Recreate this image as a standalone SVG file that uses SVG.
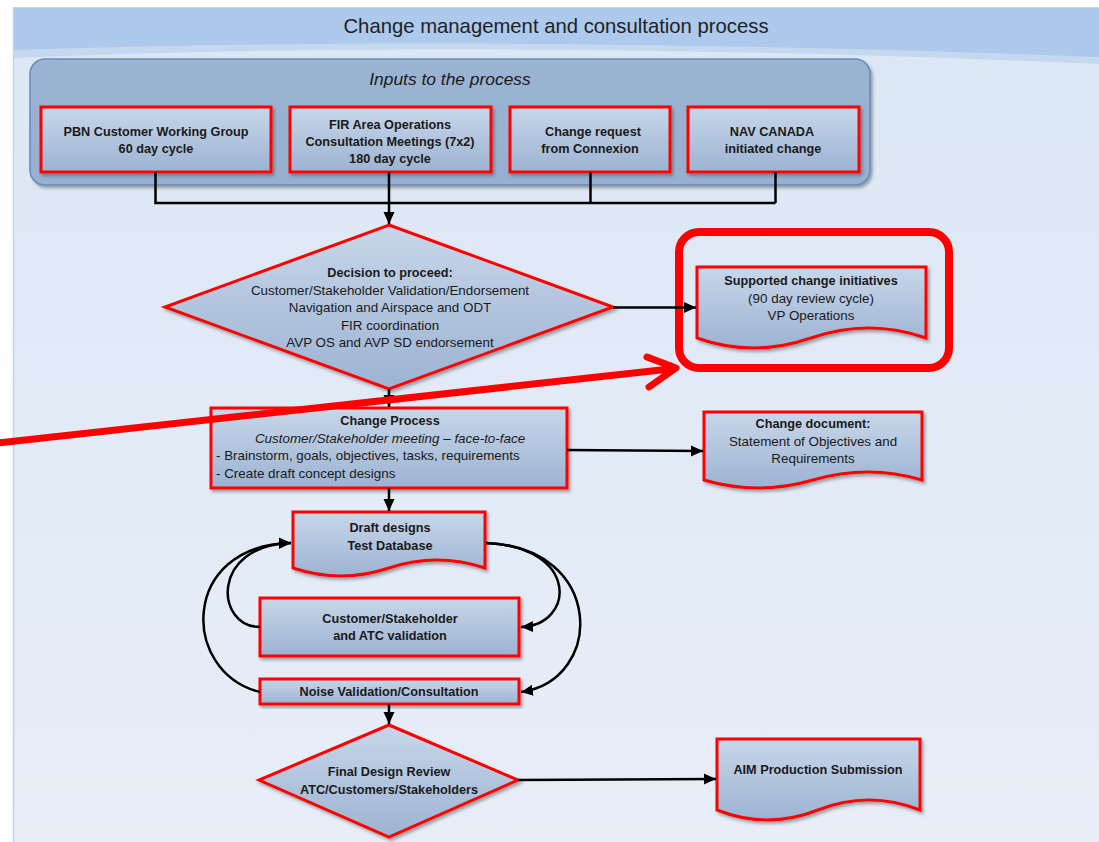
<svg xmlns="http://www.w3.org/2000/svg" width="1099" height="842" viewBox="0 0 1099 842">
<defs>
<linearGradient id="bodyG" x1="0" y1="0" x2="0" y2="1">
<stop offset="0" stop-color="#dce7f5"/>
<stop offset="1" stop-color="#e8eef8"/>
</linearGradient>
<linearGradient id="nodeG" x1="0" y1="0" x2="0" y2="1">
<stop offset="0" stop-color="#c8d7ea"/>
<stop offset="1" stop-color="#9cb3d2"/>
</linearGradient>
<linearGradient id="contG" x1="0" y1="0" x2="0" y2="1">
<stop offset="0" stop-color="#9cb4d3"/>
<stop offset="1" stop-color="#97b0d0"/>
</linearGradient>
<filter id="sh" x="-10%" y="-10%" width="125%" height="130%">
<feDropShadow dx="2" dy="2.5" stdDeviation="1.5" flood-color="#404040" flood-opacity="0.45"/>
</filter>
<marker id="ah" markerUnits="userSpaceOnUse" markerWidth="14" markerHeight="12" refX="12" refY="6" orient="auto">
<path d="M0,0.5 L12,6 L0,11.5 Z" fill="#000"/>
</marker>
</defs>
<style>
.n{fill:url(#nodeG);stroke:#ff0000;stroke-width:3;filter:url(#sh)}
.b{font-family:"Liberation Sans",Arial,sans-serif;font-weight:bold;font-size:12.7px;fill:#1a1a1a;text-anchor:middle}
.t{font-family:"Liberation Sans",Arial,sans-serif;font-size:13.4px;fill:#1a1a1a;text-anchor:middle}
.i{font-style:italic}
.l{text-anchor:start}
.c{fill:none;stroke:#000;stroke-width:2.5}
</style>
<rect x="0" y="0" width="1099" height="842" fill="#ffffff"/>
<rect x="13" y="7" width="1086" height="835" fill="url(#bodyG)"/>
<path d="M13,7 H1099 V64 Q500,38 13,58 Z" fill="#c6d8ef"/>
<path d="M13,7 H1099 V57 Q500,34 13,50 Z" fill="#adc9ec"/>
<line x1="13.5" y1="7" x2="13.5" y2="842" stroke="#c3d3e8" stroke-width="1.5"/>
<line x1="13" y1="7.5" x2="1099" y2="7.5" stroke="#c9d4e2" stroke-width="1"/>
<text x="556" y="33" font-family="'Liberation Sans',Arial,sans-serif" font-size="20.3" fill="#222" text-anchor="middle">Change management and consultation process</text>

<g id="inputs">
<rect x="30" y="59" width="840" height="126" rx="15" fill="url(#contG)" stroke="#6a8cb8" stroke-width="1.5" filter="url(#sh)"/>
<text x="450" y="85" class="t i" font-size="17.4px" style="font-size:17.4px">Inputs to the process</text>
</g>
<g id="pbn">
<rect class="n" x="41" y="107" width="230" height="65"/>
<text class="b" x="156" y="136">PBN Customer Working Group</text>
<text class="b" x="156" y="153">60 day cycle</text>
</g>
<g id="fir">
<rect class="n" x="290" y="107" width="201" height="65"/>
<text class="b" x="390" y="128.5">FIR Area Operations</text>
<text class="b" x="390" y="145.5">Consultation Meetings (7x2)</text>
<text class="b" x="390" y="162.5">180 day cycle</text>
</g>
<g id="connexion">
<rect class="n" x="510" y="107" width="160" height="65"/>
<text class="b" x="593" y="136">Change request</text>
<text class="b" x="590" y="153">from Connexion</text>
</g>
<g id="navcanada">
<rect class="n" x="688" y="107" width="171" height="65"/>
<text class="b" x="772" y="136">NAV CANADA</text>
<text class="b" x="773" y="153">initiated change</text>
</g>

<g id="decision">
<path class="n" d="M389,225 L613,307 L389,389 L165,307 Z"/>
<text class="b" x="390" y="276.5">Decision to proceed:</text>
<text class="t" x="390" y="294.5">Customer/Stakeholder Validation/Endorsement</text>
<text class="t" x="390" y="311.5">Navigation and Airspace and ODT</text>
<text class="t" x="390" y="329.5">FIR coordination</text>
<text class="t" x="390" y="346.5">AVP OS and AVP SD endorsement</text>
</g>
<g id="supported">
<path class="n" d="M697,267 H926 V338 Q869,318 811,338 T697,338 Z"/>
<text class="b" x="811" y="284.5">Supported change initiatives</text>
<text class="t" x="811" y="302.5">(90 day review cycle)</text>
<text class="t" x="811" y="320">VP Operations</text>
</g>
<g id="highlight">
<rect x="679" y="232" width="270" height="136" rx="20" fill="none" stroke="#ff0000" stroke-width="8"/>
</g>
<g id="changeprocess">
<rect class="n" x="211" y="408" width="356" height="80"/>
<text class="b" x="390" y="425">Change Process</text>
<text class="t i" x="390" y="442.5">Customer/Stakeholder meeting – face-to-face</text>
<text class="t l" x="216" y="460">- Brainstorm, goals, objectives, tasks, requirements</text>
<text class="t l" x="216" y="477.5">- Create draft concept designs</text>
</g>
<g id="changedoc">
<path class="n" d="M704,412 H922 V480 Q868,464 813,480 T704,480 Z"/>
<text class="b" x="813" y="427.5">Change document:</text>
<text class="t" x="813" y="445.5">Statement of Objectives and</text>
<text class="t" x="813" y="462.5">Requirements</text>
</g>
<g id="draft">
<path class="n" d="M293,512 H485 V568 Q437,552 389,568 T293,568 Z"/>
<text class="b" x="390" y="531.5">Draft designs</text>
<text class="b" x="390" y="549.5">Test Database</text>
</g>
<g id="validation">
<rect class="n" x="260" y="598" width="259" height="58"/>
<text class="b" x="390" y="622.5">Customer/Stakeholder</text>
<text class="b" x="390" y="639.5">and ATC validation</text>
</g>
<g id="noise">
<rect class="n" x="260" y="679" width="259" height="25"/>
<text class="b" x="389" y="696">Noise Validation/Consultation</text>
</g>
<g id="finalreview">
<path class="n" d="M389,725 L518,780 L389,837 L259,780 Z"/>
<text class="b" x="389" y="776">Final Design Review</text>
<text class="b" x="389" y="794">ATC/Customers/Stakeholders</text>
</g>
<g id="aim">
<path class="n" d="M717,739 H920 V810 Q869,790 818,810 T717,810 Z"/>
<text class="b" x="818" y="773.5">AIM Production Submission</text>
</g>

<g id="connectors">
<path class="c" d="M155.5,172 V203 H775.5 M590.5,172 V203 M775.5,172 V203"/>
<path class="c" d="M389,172 V224" marker-end="url(#ah)"/>
<path class="c" d="M613,307.5 H696" marker-end="url(#ah)"/>
<path class="c" d="M389,389 V407" marker-end="url(#ah)"/>
<path class="c" d="M567,450 L703,451" marker-end="url(#ah)"/>
<path class="c" d="M389,488 V511" marker-end="url(#ah)"/>
<path class="c" d="M260,627 C215,627 210,545 291,543" marker-end="url(#ah)"/>
<path class="c" d="M260,692 C180,672 180,545 291,543" marker-end="url(#ah)"/>
<path class="c" d="M486,543 C580,547 575,625 521,627" marker-end="url(#ah)"/>
<path class="c" d="M486,543 C605,547 605,680 521,692" marker-end="url(#ah)"/>
<path class="c" d="M389,704 V724" marker-end="url(#ah)"/>
<path class="c" d="M518,780 L716,779" marker-end="url(#ah)"/>
</g>

<g id="redarrow">
<path d="M-2,443 L670,369 M647,357 L676,368 L649,387" fill="none" stroke="#ff0000" stroke-width="7" stroke-linecap="round" stroke-linejoin="round"/>
</g>
</svg>
